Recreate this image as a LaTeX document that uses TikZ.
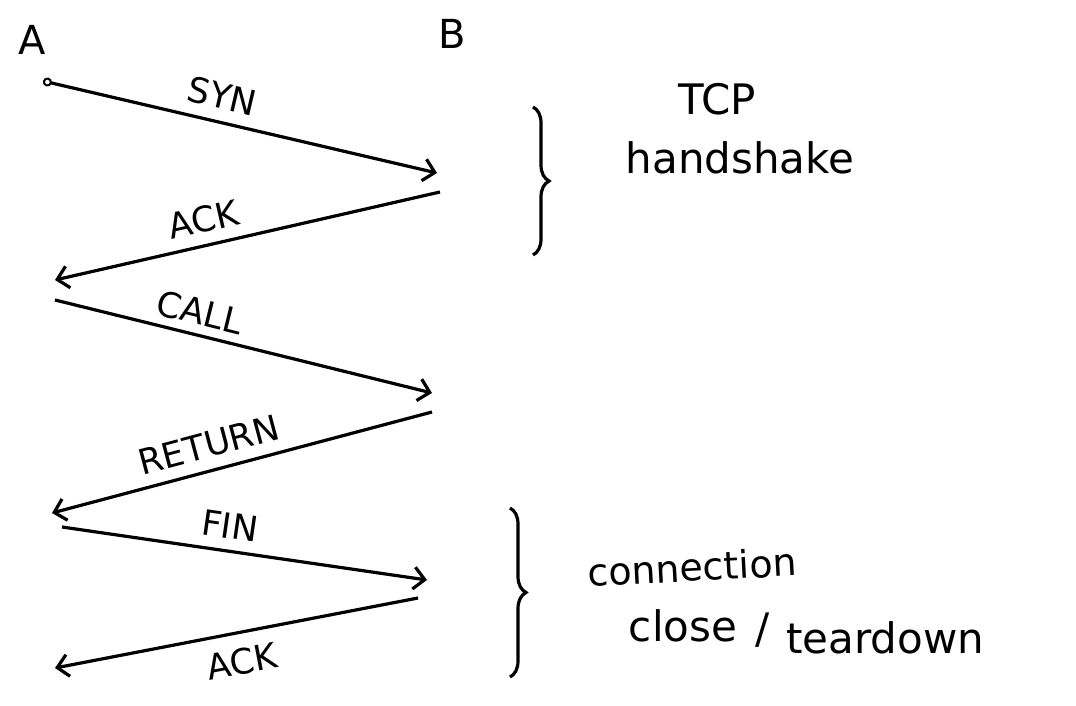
\documentclass[tikz,border=0pt]{standalone}
\usepackage{fontspec}
\setmainfont{DejaVu Sans}
\usetikzlibrary{arrows.meta,decorations.pathreplacing}
\tikzset{
  msg/.style={line width=3.2pt, -{Straight Barb[length=11pt,width=22pt,line width=3.2pt]}},
  msgstart/.style={line width=3.2pt, {Circle[open,length=9pt,width=9pt,line width=2pt]}-{Straight Barb[length=11pt,width=22pt,line width=3.2pt]}},
  lbl/.style={font=\fontsize{35}{40}\selectfont, inner sep=0pt},
  party/.style={font=\fontsize{40}{44}\selectfont, inner sep=0pt},
  note/.style={font=\fontsize{42}{46}\selectfont, inner sep=0pt},
  bracestyle/.style={line width=3.2pt, decorate, decoration={brace, amplitude=16pt}},
}
\begin{document}
\begin{tikzpicture}[x=1pt,y=-1pt]
\useasboundingbox (0,0) rectangle (1076,706);
% parties
\node[party] (A) at (32,40) {A};
\node[party] (B) at (452,34) {B};
% endpoints
\coordinate (a1) at (43,81);   \coordinate (b1) at (437,173);
\coordinate (b2) at (440,192); \coordinate (a2) at (55,280);
\coordinate (a3) at (55,300);  \coordinate (b3) at (432,393);
\coordinate (b4) at (432,412); \coordinate (a4) at (52,513);
\coordinate (a5) at (62,527);  \coordinate (b5) at (427,580);
\coordinate (b6) at (418,598); \coordinate (a6) at (55,668);
% messages
\draw[msgstart] (a1) -- node[lbl, sloped, above=11pt, pos=0.44] (lsyn) {SYN} (b1);
\draw[msg] (b2) -- node[lbl, sloped, above=11pt, pos=0.60] (lack1) {ACK} (a2);
\draw[msg] (a3) -- node[lbl, sloped, above=8pt, pos=0.37] (lcall) {CALL} (b3);
\draw[msg] (b4) -- node[lbl, sloped, above=11pt, pos=0.57] (lret) {RETURN} (a4);
\draw[msg] (a5) -- node[lbl, sloped, above=11pt, pos=0.45] (lfin) {FIN} (b5);
\draw[msg] (b6) -- node[lbl, sloped, below=14pt, pos=0.50] (lack2) {ACK} (a6);
% braces
\coordinate (br1t) at (533,107); \coordinate (br1b) at (533,255);
\coordinate (br2t) at (510,508); \coordinate (br2b) at (510,677);
\draw[bracestyle] (br1t) -- (br1b);
\draw[bracestyle] (br2t) -- (br2b);
% notes
\node[note] (tcp) at (717,99) {TCP};
\node[note] (hs) at (740,158) {handshake};
\node[note, font=\fontsize{38}{42}\selectfont, rotate=3] (conn) at (692,567) {connection};
\node[note] (close) at (683,626) {close};
\node[note] (slash) at (763,630) {/};
\node[note] (tear) at (885,638) {teardown};
\end{tikzpicture}
\end{document}
